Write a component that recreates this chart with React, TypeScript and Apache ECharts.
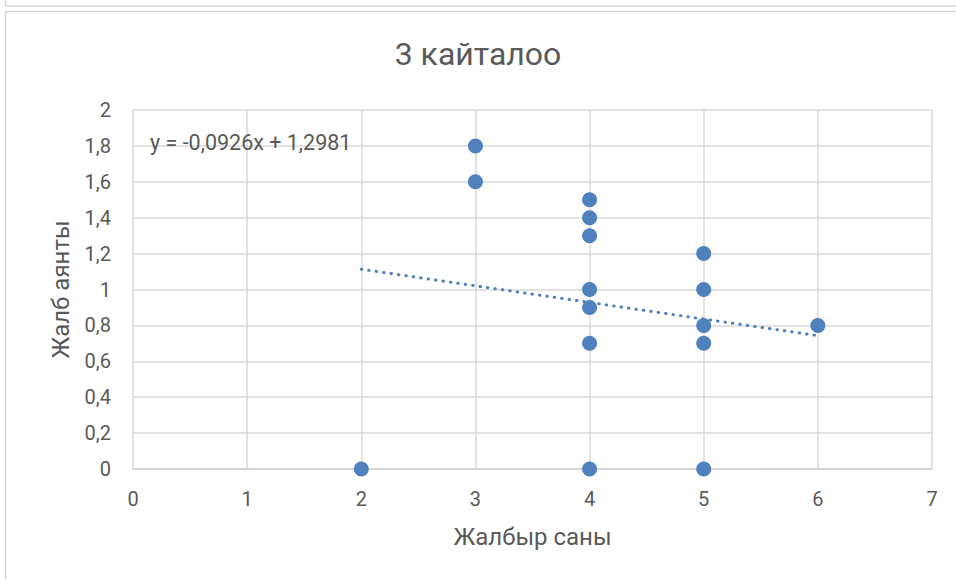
import React, { useEffect, useRef } from "react";
import * as echarts from "echarts";

const chartTitle = "3 кайталоо";
const xAxisTitle = "Жалбыр саны";
const yAxisTitle = "Жалб аянты";
const equationText = "y = -0,0926x + 1,2981";

// Scatter points: x values and y values
const xValues = [2, 3, 3, 4, 4, 4, 4, 4, 4, 4, 5, 5, 5, 5, 5, 6];
const yValues = [0, 1.8, 1.6, 1.5, 1.4, 1.3, 1.0, 0.9, 0.7, 0, 1.2, 1.0, 0.8, 0.7, 0, 0.8];

const trendX = [2, 6];
const trendY = [1.113, 0.743];

const FONT = "Roboto, 'Noto Sans', sans-serif";
const TEXT = "#595959";
const BLUE = "#4f81bd";

export default function App() {
  const ref = useRef<HTMLDivElement>(null);
  useEffect(() => {
    if (!ref.current) return;
    const chart = echarts.init(ref.current, null, { renderer: "svg" });
    const points = xValues.map((x, i) => [x, yValues[i]]);
    const trend = trendX.map((x, i) => [x, trendY[i]]);
    chart.setOption({
      animation: false,
      backgroundColor: "#ffffff",
      textStyle: { fontFamily: FONT },
      title: {
        text: chartTitle,
        left: "center",
        top: 33,
        textStyle: { fontFamily: FONT, fontSize: 32, fontWeight: "normal", color: TEXT },
      },
      grid: { left: 133, right: 24, top: 110, bottom: 110 },
      xAxis: {
        type: "value",
        min: 0,
        max: 7,
        interval: 1,
        name: xAxisTitle,
        nameLocation: "middle",
        nameGap: 56,
        nameTextStyle: { fontFamily: FONT, fontSize: 24, color: TEXT },
        axisLine: { show: true, lineStyle: { color: "#d0d0d0", width: 1.5 } },
        axisTick: { show: false },
        axisLabel: { margin: 20, fontSize: 20, color: TEXT, fontFamily: FONT },
        splitLine: { show: true, lineStyle: { color: "#d9d9d9", width: 1.5 } },
      },
      yAxis: {
        type: "value",
        min: 0,
        max: 2,
        interval: 0.2,
        name: yAxisTitle,
        nameLocation: "middle",
        nameGap: 60,
        nameRotate: 90,
        nameTextStyle: { fontFamily: FONT, fontSize: 24, color: TEXT },
        axisLine: { show: false },
        axisTick: { show: false },
        axisLabel: {
          margin: 22,
          fontSize: 20,
          color: TEXT,
          fontFamily: FONT,
          formatter: (v: number) => String(Math.round(v * 10) / 10).replace(".", ","),
        },
        splitLine: { show: true, lineStyle: { color: "#d9d9d9", width: 1.5 } },
      },
      series: [
        {
          type: "line",
          data: trend,
          symbol: "none",
          lineStyle: { color: BLUE, width: 3, type: [0.5, 7], cap: "round" },
          z: 3,
        },
        {
          type: "scatter",
          data: points,
          symbol: "circle",
          symbolSize: 15,
          itemStyle: { color: BLUE, opacity: 1 },
          z: 4,
        },
      ],
      graphic: [
        {
          type: "text",
          left: 150,
          top: 131,
          style: { text: equationText, fontSize: 21.5, fill: TEXT, fontFamily: FONT },
          z: 10,
        },
        {
          type: "line",
          shape: { x1: 5.5, y1: 0, x2: 5.5, y2: 6 },
          style: { stroke: "#d4d4d4", lineWidth: 1.5 },
        },
        {
          type: "line",
          shape: { x1: 5.5, y1: 6, x2: 956, y2: 6 },
          style: { stroke: "#d4d4d4", lineWidth: 1.5 },
        },
        {
          type: "line",
          shape: { x1: 5.5, y1: 11.5, x2: 956, y2: 11.5 },
          style: { stroke: "#d4d4d4", lineWidth: 1.5 },
        },
        {
          type: "line",
          shape: { x1: 5.5, y1: 11.5, x2: 5.5, y2: 579 },
          style: { stroke: "#d4d4d4", lineWidth: 1.5 },
        },
      ],
    });
    return () => chart.dispose();
  }, []);
  return (
    <div
      ref={ref}
      style={{ position: "absolute", left: 0, top: 0, width: 956, height: 579 }}
    />
  );
}
